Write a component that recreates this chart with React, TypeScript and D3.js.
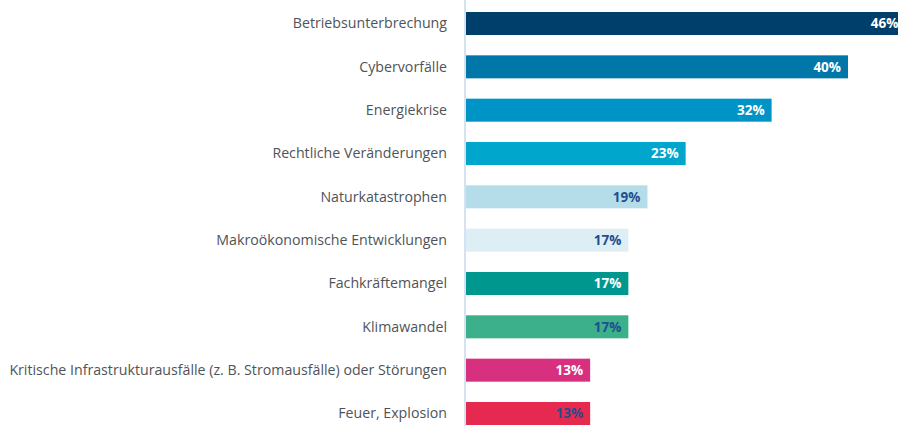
import React from "react";
import * as d3 from "d3";

const categories = [
  "Betriebsunterbrechung",
  "Cybervorfälle",
  "Energiekrise",
  "Rechtliche Veränderungen",
  "Naturkatastrophen",
  "Makroökonomische Entwicklungen",
  "Fachkräftemangel",
  "Klimawandel",
  "Kritische Infrastrukturausfälle (z. B. Stromausfälle) oder Störungen",
  "Feuer, Explosion",
];
const values = [46, 40, 32, 23, 19, 17, 17, 17, 13, 13];
const barColors = [
  "#003f6b", "#0077a8", "#0094c6", "#00a6cc", "#b5dde9",
  "#ddeff5", "#00978f", "#3bb08a", "#d6307f", "#e6294e",
];
const labelColors = [
  "#ffffff", "#ffffff", "#ffffff", "#ffffff", "#1f4f8f",
  "#1f4f8f", "#ffffff", "#1f4f8f", "#ffffff", "#1f4f8f",
];

export default function App() {
  const W = 898, H = 426;
  const x0 = 466;
  const x = d3.scaleLinear().domain([0, 40]).range([x0, 848]);
  const y = d3
    .scaleBand<string>()
    .domain(categories)
    .range([12 - 10.15, 425 + 10.15])
    .paddingInner(0.469)
    .paddingOuter(0.2345);
  const font = "'Open Sans', 'DejaVu Sans', sans-serif";
  return (
    <svg
      width={W}
      height={H}
      style={{ position: "absolute", left: 0, top: 0, background: "#fff" }}
    >
      <line x1={465} x2={465} y1={0} y2={H} stroke="#c9d9ea" strokeWidth={1.5} />
      {categories.map((c, i) => {
        const yy = y(c)!;
        const bw = y.bandwidth();
        return (
          <g key={c}>
            <rect x={x0} y={yy} width={x(values[i]) - x0} height={bw} fill={barColors[i]} />
            <text
              x={x(values[i]) - 7}
              y={yy + bw / 2}
              dy="0.35em"
              textAnchor="end"
              fill={labelColors[i]}
              fontFamily={font}
              fontWeight={700}
              fontSize={13.5}
            >
              {values[i]}%
            </text>
            <text
              x={447}
              y={yy + bw / 2}
              dy="0.35em"
              textAnchor="end"
              fill="#4f5358"
              fontFamily={font}
              fontSize={14.2}
            >
              {c}
            </text>
          </g>
        );
      })}
    </svg>
  );
}
